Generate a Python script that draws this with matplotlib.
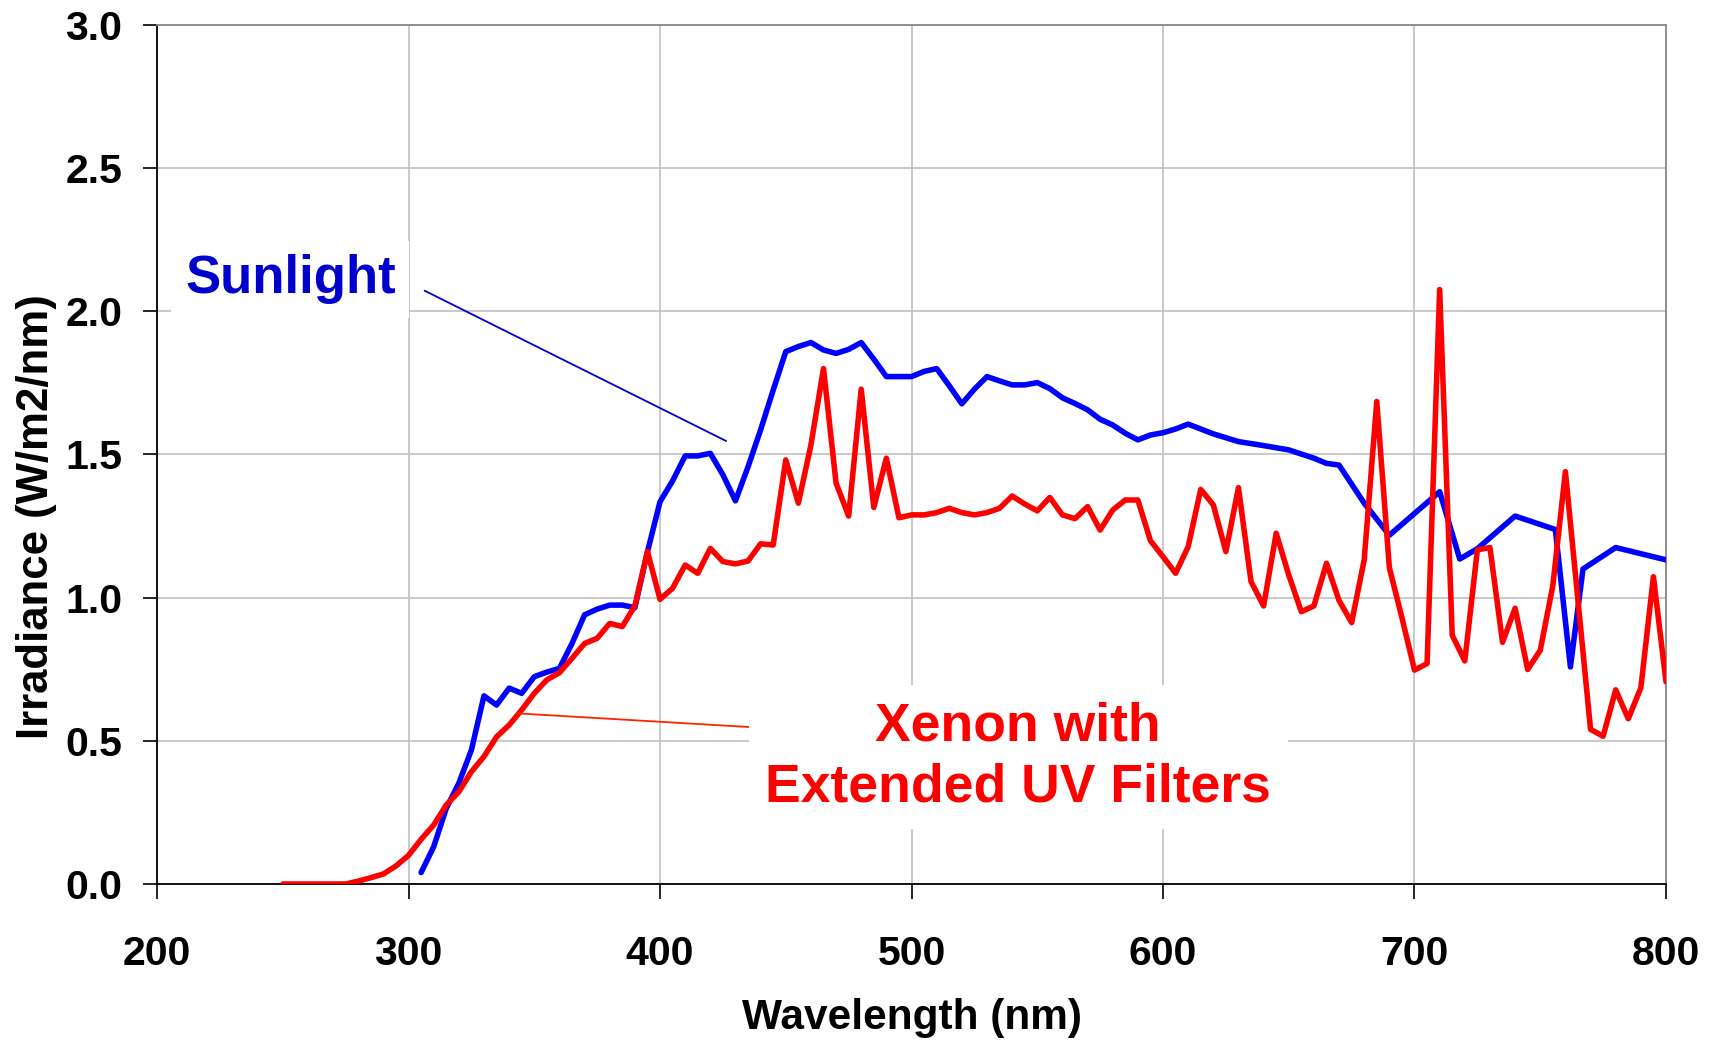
import matplotlib
matplotlib.use("Agg")
import matplotlib.pyplot as plt

plt.rcParams['font.family'] = ['Liberation Sans', 'DejaVu Sans']

# --- Data ---
xenon_nm = list(range(250, 805, 5))
xenon_irr = [
    0.0, 0.0, 0.0, 0.0, 0.0, 0.0, 0.01, 0.022, 0.035, 0.063,
    0.10, 0.156, 0.206, 0.276, 0.322, 0.392, 0.445, 0.514, 0.555, 0.608,
    0.666, 0.713, 0.738, 0.788, 0.84, 0.858, 0.91, 0.899, 0.971, 1.161,
    0.994, 1.033, 1.114, 1.085, 1.172, 1.126, 1.118, 1.128, 1.188, 1.184,
    1.481, 1.33, 1.533, 1.80, 1.40, 1.285, 1.728, 1.315, 1.487, 1.279,
    1.289, 1.289, 1.297, 1.312, 1.297, 1.289, 1.297, 1.312, 1.355, 1.327,
    1.303, 1.350, 1.289, 1.276, 1.318, 1.236, 1.306, 1.341, 1.341, 1.199,
    1.143, 1.085, 1.178, 1.378, 1.324, 1.161, 1.384, 1.056, 0.971, 1.225,
    1.079, 0.951, 0.971, 1.12, 0.99, 0.913, 1.132, 1.685, 1.105, 0.93,
    0.747, 0.77, 2.076, 0.869, 0.779, 1.167, 1.175, 0.844, 0.963, 0.749,
    0.816, 1.042, 1.44, 0.99, 0.54, 0.516, 0.678, 0.577, 0.685, 1.073,
    0.706,
]

sun_nm = [
    305, 310, 315, 320, 325, 330, 335, 340, 345, 350,
    355, 360, 365, 370, 375, 380, 385, 390, 395, 400,
    405, 410, 415, 420, 425, 430, 435, 440, 445, 450,
    455, 460, 465, 470, 475, 480, 485, 490, 495, 500,
    505, 510, 515, 520, 525, 530, 535, 540, 545, 550,
    555, 560, 565, 570, 575, 580, 585, 590, 595, 600,
    605, 610, 620, 630, 640, 650, 660, 665, 670, 680,
    690, 710, 718, 725, 740, 756, 762, 767, 780, 800,
]
sun_irr = [
    0.04, 0.13, 0.264, 0.352, 0.468, 0.657, 0.625, 0.684, 0.666, 0.724,
    0.74, 0.753, 0.84, 0.94, 0.96, 0.974, 0.974, 0.965, 1.16, 1.335,
    1.408, 1.495, 1.495, 1.504, 1.429, 1.338, 1.457, 1.586, 1.725, 1.859,
    1.877, 1.891, 1.865, 1.853, 1.867, 1.891, 1.833, 1.772, 1.772, 1.772,
    1.79, 1.80, 1.74, 1.677, 1.728, 1.772, 1.757, 1.743, 1.743, 1.751,
    1.73, 1.698, 1.678, 1.656, 1.623, 1.603, 1.574, 1.551, 1.568, 1.576,
    1.589, 1.606, 1.572, 1.545, 1.531, 1.516, 1.487, 1.469, 1.463, 1.33,
    1.218, 1.37, 1.135, 1.171, 1.285, 1.238, 0.758, 1.10, 1.175, 1.132,
]

x_ticks = [200, 300, 400, 500, 600, 700, 800]
y_ticks = [0.0, 0.5, 1.0, 1.5, 2.0, 2.5, 3.0]

# --- Plot ---
fig = plt.figure(figsize=(17.2, 10.4), dpi=100)
ax = fig.add_axes([0.0913, 0.15, 0.8773, 0.826])

ax.plot(sun_nm, sun_irr, color="#0000FF", lw=4.0, solid_joinstyle="round",
        solid_capstyle="round", zorder=3)
ax.plot(xenon_nm, xenon_irr, color="#FF0000", lw=4.0, solid_joinstyle="round",
        solid_capstyle="round", zorder=4)

ax.set_xlim(200, 800)
ax.set_ylim(0, 3.0)
ax.set_xticks(x_ticks)
ax.set_yticks(y_ticks)
ax.set_yticklabels([f"{v:.1f}" for v in y_ticks])
ax.grid(True, color="#C0C0C0", lw=1.2, zorder=0)
ax.set_axisbelow(True)

for lab in ax.get_xticklabels() + ax.get_yticklabels():
    lab.set_fontweight("bold")
    lab.set_fontsize(29.5)
ax.tick_params(axis="x", direction="out", length=11, width=1.2, pad=26)
ax.tick_params(axis="y", direction="out", length=10, width=1.2, pad=15)

ax.spines["left"].set_color("black")
ax.spines["bottom"].set_color("black")
ax.spines["top"].set_color("#888888")
ax.spines["right"].set_color("#888888")
for s in ax.spines.values():
    s.set_linewidth(1.3)

fig.text(0.53, 0.021, "Wavelength (nm)", ha="center", va="center",
         fontsize=30.5, fontweight="bold")
fig.text(0.021, 0.503, "Irradiance (W/m2/nm)", ha="center", va="center",
         rotation=90, fontsize=31.5, fontweight="bold")

# --- Annotations ---
ax.annotate("", xy=(426.3, 1.547), xytext=(306.4, 2.072),
            arrowprops=dict(arrowstyle="-", color="#0000CC", lw=1.3,
                            shrinkA=0, shrinkB=0), zorder=5)
ax.annotate("", xy=(445.5, 0.543), xytext=(343.1, 0.596),
            arrowprops=dict(arrowstyle="-", color="#FF2200", lw=1.3,
                            shrinkA=0, shrinkB=0), zorder=5)

ax.text(253.0, 2.112, "Sunlight", color="#0000CC", fontsize=38,
        fontweight="bold", ha="center", va="center", zorder=6,
        bbox=dict(facecolor="white", edgecolor="none", pad=10))
ax.text(542.4, 0.444, "Xenon with\nExtended UV Filters", color="#FF0000",
        fontsize=38.5, fontweight="bold", ha="center", va="center",
        multialignment="center", linespacing=1.28, zorder=6,
        bbox=dict(facecolor="white", edgecolor="none", pad=12))

fig.savefig("out.png", dpi=100)
